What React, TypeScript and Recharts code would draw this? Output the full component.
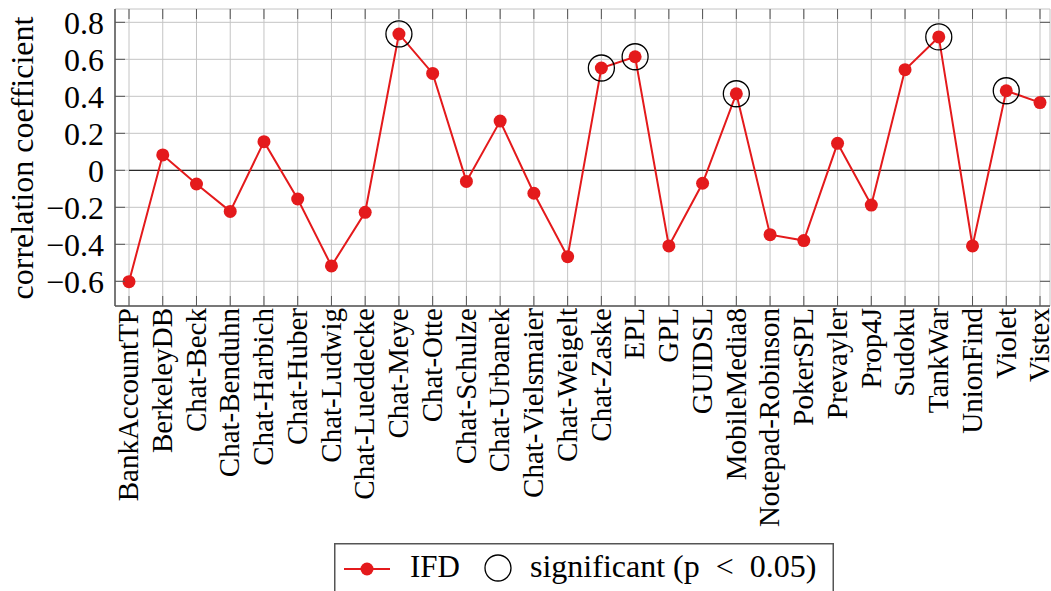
import { LineChart, Line, XAxis, YAxis, CartesianGrid, ReferenceLine } from 'recharts';

const projects = [
  'BankAccountTP', 'BerkeleyDB', 'Chat-Beck', 'Chat-Benduhn', 'Chat-Harbich', 'Chat-Huber',
  'Chat-Ludwig', 'Chat-Lueddecke', 'Chat-Meye', 'Chat-Otte', 'Chat-Schulze', 'Chat-Urbanek',
  'Chat-Vielsmaier', 'Chat-Weigelt', 'Chat-Zaske', 'EPL', 'GPL', 'GUIDSL', 'MobileMedia8',
  'Notepad-Robinson', 'PokerSPL', 'Prevayler', 'Prop4J', 'Sudoku', 'TankWar', 'UnionFind',
  'Violet', 'Vistex',
];

// correlation coefficient per project (IFD)
const ifd = [
  -0.602, 0.083, -0.074, -0.222, 0.155, -0.155,
  -0.517, -0.227, 0.737, 0.524, -0.060, 0.266,
  -0.124, -0.467, 0.553, 0.614, -0.409, -0.070, 0.414,
  -0.348, -0.380, 0.146, -0.188, 0.544, 0.721, -0.409,
  0.430, 0.366,
];

// p < 0.05
const significantProjects = ['Chat-Meye', 'Chat-Zaske', 'EPL', 'MobileMedia8', 'TankWar', 'Violet'];

const yTicks = [-0.6, -0.4, -0.2, 0, 0.2, 0.4, 0.6, 0.8];
const yDomain = [-0.7335, 0.872];

const data = projects.map((name, i) => ({
  name,
  ifd: ifd[i],
  sig: significantProjects.includes(name) ? ifd[i] : null,
}));

const FONT = '"Liberation Serif", "DejaVu Serif", serif';
const RED = '#e41a1c';
const FRAME = '#555555';
const GRID = '#c4c4c4';
const W = 1051;
const H = 591;
const PLOT_TOP = 9;
const PLOT_BOTTOM = 306;
const PLOT_LEFT = 115;
const PLOT_RIGHT = 1050;
const TICK_LEN = 10;

const fmt = (v: number) => (v === 0 ? '0' : (v < 0 ? '\u2212' : '') + Math.abs(v).toFixed(1));

function XTick({ x, payload }: any) {
  return (
    <g>
      <line x1={x} x2={x} y1={PLOT_BOTTOM} y2={PLOT_BOTTOM - TICK_LEN} stroke={FRAME} strokeWidth={1} />
      <line x1={x} x2={x} y1={PLOT_TOP} y2={PLOT_TOP + TICK_LEN} stroke={FRAME} strokeWidth={1} />
      <text
        x={x} y={PLOT_BOTTOM + 2} transform={`rotate(-90, ${x}, ${PLOT_BOTTOM + 2})`}
        textAnchor="end" dy="0.32em" fontFamily={FONT} fontSize={29} fill="#000"
      >
        {payload.value}
      </text>
    </g>
  );
}

function YTick({ y, payload }: any) {
  return (
    <g>
      <line x1={PLOT_LEFT} x2={PLOT_LEFT + TICK_LEN} y1={y} y2={y} stroke={FRAME} strokeWidth={1} />
      <line x1={PLOT_RIGHT} x2={PLOT_RIGHT - TICK_LEN} y1={y} y2={y} stroke={FRAME} strokeWidth={1} />
      <text x={104} y={y} dy="0.36em" textAnchor="end" fontFamily={FONT} fontSize={32} fill="#000">
        {fmt(payload.value)}
      </text>
    </g>
  );
}

const yLabel = () => (
  <text
    x={33} y={158} transform="rotate(-90, 33, 158)" textAnchor="middle"
    fontFamily={FONT} fontSize={32} fill="#000"
  >
    correlation coefficient
  </text>
);

const sigDot = (props: any) => {
  const { cx, cy, value, index } = props;
  if (value == null || cy == null) return <g key={`s${index}`} />;
  return <circle key={`s${index}`} cx={cx} cy={cy} r={13} fill="none" stroke="#000" strokeWidth={1.3} />;
};

function LegendBox() {
  return (
    <svg width={500} height={48} style={{ position: 'absolute', left: 334, top: 543 }}>
      <rect x={0.75} y={0.75} width={498.5} height={60} fill="#fff" stroke={FRAME} strokeWidth={1.5} />
      <line x1={10} x2={56} y1={26} y2={26} stroke={RED} strokeWidth={2} />
      <circle cx={33} cy={26} r={6.5} fill={RED} />
      <text x={76} y={34} fontFamily={FONT} fontSize={31} fill="#000">IFD</text>
      <circle cx={164} cy={25} r={13} fill="none" stroke="#000" strokeWidth={1.3} />
      <text x={196} y={34} fontFamily={FONT} fontSize={32} fill="#000">
        {'significant (p\u2002<\u20020.05)'}
      </text>
    </svg>
  );
}

export default function App() {
  return (
    <div style={{ position: 'absolute', left: 0, top: 0, width: W, height: H, background: '#fff' }}>
      <LineChart
        width={W} height={H} data={data}
        margin={{ top: PLOT_TOP, right: W - PLOT_RIGHT, bottom: 0, left: 0 }}
      >
        <CartesianGrid stroke={GRID} strokeWidth={1} />
        <XAxis
          dataKey="name" type="category" interval={0} height={H - PLOT_BOTTOM}
          padding={{ left: 14, right: 10 }} axisLine={{ stroke: FRAME, strokeWidth: 1.5 }}
          tickLine={false} tick={<XTick />}
        />
        <XAxis
          xAxisId="top" orientation="top" dataKey="name" height={0} padding={{ left: 14, right: 10 }}
          axisLine={{ stroke: FRAME, strokeWidth: 1.5 }} tickLine={false} tick={false}
        />
        <YAxis
          type="number" domain={yDomain} ticks={yTicks} width={PLOT_LEFT} interval={0}
          allowDataOverflow axisLine={{ stroke: FRAME, strokeWidth: 1.5 }} tickLine={false}
          tick={<YTick />} label={{ content: yLabel }}
        />
        <YAxis
          yAxisId="right" orientation="right" type="number" domain={yDomain} width={0}
          allowDataOverflow axisLine={{ stroke: FRAME, strokeWidth: 1.5 }} tickLine={false} tick={false}
        />
        <ReferenceLine
          segment={[{ x: projects[0], y: 0 }, { x: projects[projects.length - 1], y: 0 }]}
          stroke="#000" strokeWidth={1}
        />
        <Line
          dataKey="ifd" stroke={RED} strokeWidth={2} isAnimationActive={false}
          dot={{ r: 6.5, fill: RED, stroke: RED, strokeWidth: 0 }}
        />
        <Line
          dataKey="sig" stroke="none" isAnimationActive={false} dot={sigDot} activeDot={false}
          connectNulls={false}
        />
      </LineChart>
      <LegendBox />
    </div>
  );
}
